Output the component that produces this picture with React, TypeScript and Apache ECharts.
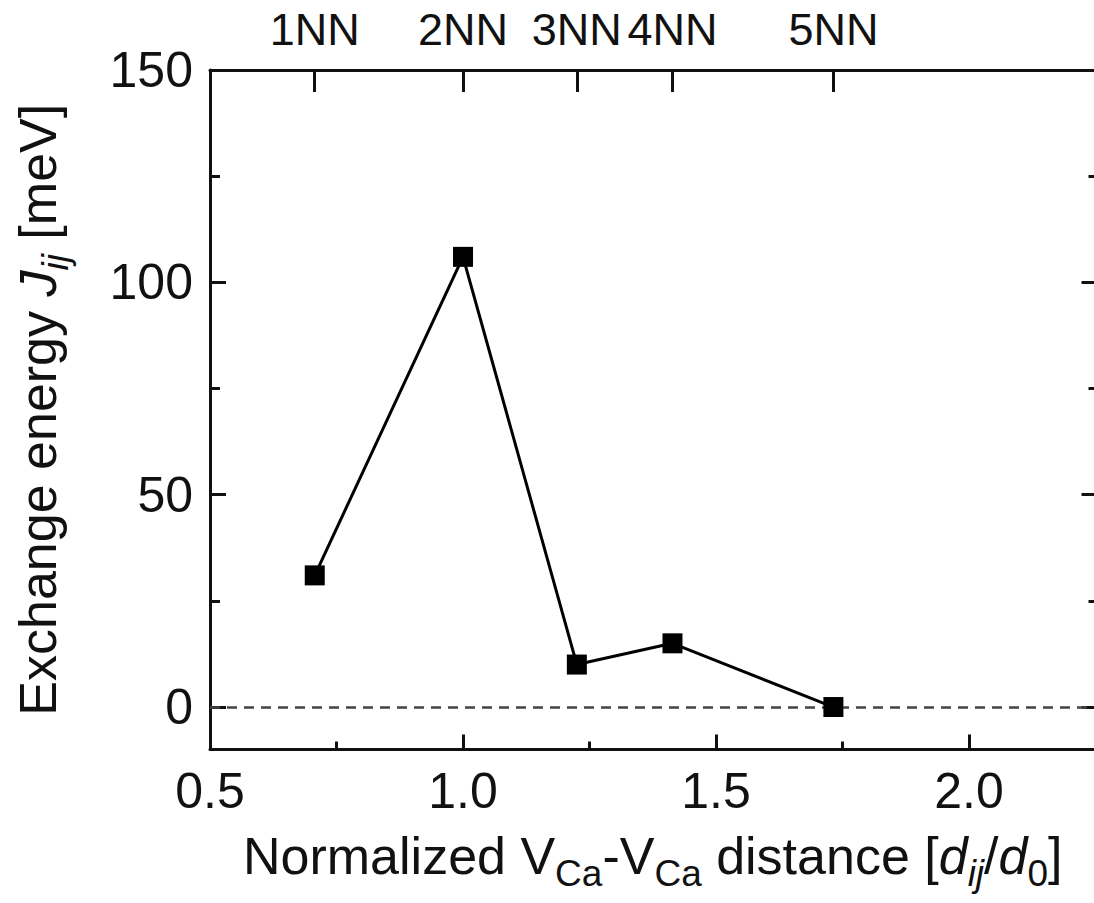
import React, { useEffect, useRef } from "react";
import * as echarts from "echarts";

const nnLabels = ["1NN", "2NN", "3NN", "4NN", "5NN"];
const distances = [0.707, 1.0, 1.225, 1.414, 1.732];
const exchange = [31, 106, 10, 15, 0];
const zeroLine = 0;

const xMajor = [0.5, 1.0, 1.5, 2.0];
const xMinor = [0.75, 1.25, 1.75, 2.25];
const yMajor = [0, 50, 100, 150];
const yMinor = [25, 75, 125];

const FONT = "Liberation Sans, Arial, Helvetica, sans-serif";
const BLACK = "#111";

export default function App() {
  const ref = useRef<HTMLDivElement>(null);
  useEffect(() => {
    if (!ref.current) return;
    const chart = echarts.init(ref.current, null, { renderer: "svg" });
    const axisLine = { show: true, onZero: false, lineStyle: { color: BLACK, width: 3 } };
    const noLine = { show: false, onZero: false };
    const base = { type: "value", min: 0.5, max: 2.25, splitLine: { show: false } };
    const ybase = { type: "value", min: -10, max: 150, splitLine: { show: false } };
    const tickStyle = { color: BLACK, width: 3 };
    const rich = {
      n: { fontSize: 52, fontFamily: FONT, color: BLACK, lineHeight: 62, verticalAlign: "top" },
      it: { fontSize: 52, fontFamily: FONT, color: BLACK, fontStyle: "italic", lineHeight: 62, verticalAlign: "top" },
      sub: { fontSize: 37, fontFamily: FONT, color: BLACK, lineHeight: 12, verticalAlign: "bottom" },
      itsub: { fontSize: 37, fontFamily: FONT, color: BLACK, fontStyle: "italic", lineHeight: 12, verticalAlign: "bottom" },
    };
    chart.setOption({
      animation: false,
      backgroundColor: "#fff",
      grid: { left: 210, right: 4.5, top: 70, bottom: 153.5, containLabel: false },
      xAxis: [
        {
          ...base,
          position: "bottom",
          axisLine,
          axisTick: { show: true, inside: true, length: 15, customValues: xMajor, lineStyle: tickStyle },
          axisLabel: {
            customValues: xMajor,
            formatter: (v: number) => v.toFixed(1),
            fontSize: 50,
            fontFamily: FONT,
            color: BLACK,
            margin: 16,
          },
          name: "{n|Normalized V}{sub|Ca}{n|-V}{sub|Ca}{n| distance [}{it|d}{itsub|ij}{n|/}{it|d}{sub|0}{n|]}",
          nameLocation: "middle",
          nameGap: 80,
          nameTextStyle: { rich },
        },
        {
          ...base,
          position: "bottom",
          axisLine: noLine,
          axisTick: { show: true, inside: true, length: 8, customValues: xMinor, lineStyle: tickStyle },
          axisLabel: { show: false },
        },
        {
          ...base,
          position: "top",
          axisLine,
          axisTick: { show: true, inside: true, length: 22, customValues: distances, lineStyle: tickStyle },
          axisLabel: {
            customValues: distances,
            formatter: (v: number) => {
              const i = distances.findIndex((d) => Math.abs(d - v) < 1e-6);
              return i >= 0 ? nnLabels[i] : "";
            },
            fontSize: 45,
            fontFamily: FONT,
            color: BLACK,
            margin: 18,
          },
        },
      ],
      yAxis: [
        {
          ...ybase,
          position: "left",
          axisLine,
          axisTick: { show: true, inside: true, length: 16, customValues: yMajor, lineStyle: tickStyle },
          axisLabel: { customValues: yMajor, fontSize: 50, fontFamily: FONT, color: BLACK, margin: 17 },
          name: "{n|Exchange energy }{it|J}{itsub|ij}{n| [meV]}",
          nameLocation: "middle",
          nameGap: 136,
          nameTextStyle: { rich },
        },
        {
          ...ybase,
          position: "left",
          axisLine: noLine,
          axisTick: { show: true, inside: true, length: 10, customValues: yMinor, lineStyle: tickStyle },
          axisLabel: { show: false },
        },
        {
          ...ybase,
          position: "right",
          axisLine,
          axisTick: { show: true, inside: true, length: 14, customValues: yMajor, lineStyle: tickStyle },
          axisLabel: { show: false },
        },
        {
          ...ybase,
          position: "right",
          axisLine: noLine,
          axisTick: { show: true, inside: true, length: 7, customValues: yMinor, lineStyle: tickStyle },
          axisLabel: { show: false },
        },
      ],
      series: [
        {
          type: "line",
          xAxisIndex: 0,
          yAxisIndex: 0,
          data: distances.map((d, i) => [d, exchange[i]]),
          symbol: "rect",
          symbolSize: 20,
          itemStyle: { color: "#000" },
          lineStyle: { color: "#000", width: 3 },
          z: 5,
          markLine: {
            silent: true,
            symbol: "none",
            label: { show: false },
            lineStyle: { color: "#444", width: 2.5, type: [10, 7] },
            data: [{ yAxis: zeroLine }],
            z: 1,
          },
        },
      ],
    });
    return () => chart.dispose();
  }, []);
  return (
    <div
      ref={ref}
      style={{ position: "fixed", left: 0, top: 0, width: 1100, height: 903, background: "#fff" }}
    />
  );
}
